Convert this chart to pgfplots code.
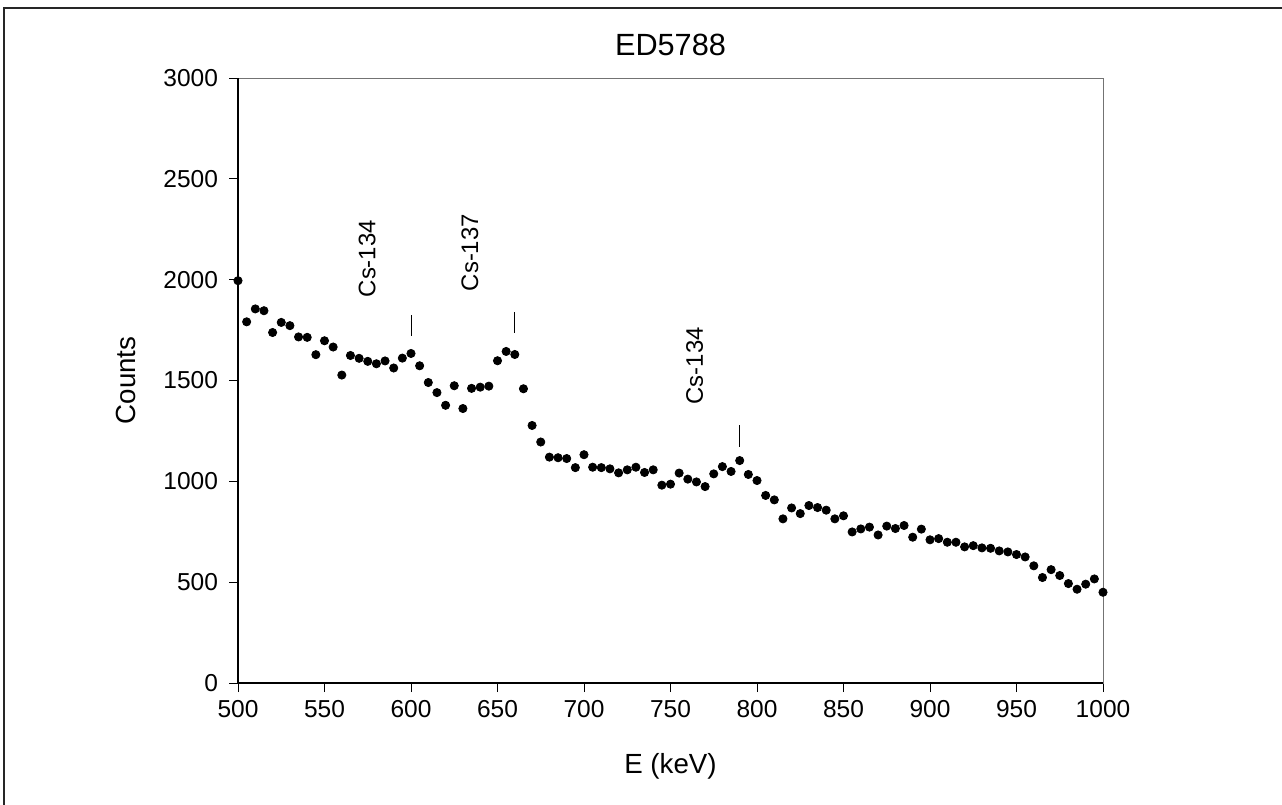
\documentclass[border=0pt]{standalone}
\usepackage{fontspec}
\setmainfont{Liberation Sans}
\usepackage{pgfplots}
\pgfplotsset{compat=1.18}
\begin{document}
\begin{tikzpicture}
\path[use as bounding box, fill=white] (0,0) rectangle (641bp,402.5bp);
\draw[black!85, line width=1.1bp] (2bp,0) -- (2bp,398.5bp) -- (641bp,398.5bp);
\begin{axis}[
  at={(119bp,61bp)}, anchor=south west,
  scale only axis, width=432.5bp, height=302.5bp,
  xmin=500, xmax=1000, ymin=0, ymax=3000,
  xtick={500,550,...,1000}, ytick={0,500,...,3000},
  xtick pos=left, ytick pos=left, tick align=outside,
  major tick length=4.5bp,
  tick style={black, line width=0.5bp},
  axis line style={draw=black!55, line width=0.5bp},
  scaled ticks=false,
  /pgf/number format/assume math mode=true,
  /pgf/number format/1000 sep={},
  ticklabel style={font=\fontsize{12.3}{14}\selectfont},
  xticklabel style={yshift=-0.8bp},
  yticklabel style={xshift=-2bp},
  title={ED5788},
  title style={at={(0.5,1)}, anchor=base, yshift=5.5bp, font=\fontsize{15.4}{17}\selectfont},
  xlabel={E (keV)},
  ylabel={Counts},
  label style={font=\fontsize{13.9}{16}\selectfont},
  xlabel style={at={(0.5,0)}, anchor=center, yshift=-41.5bp},
  every axis y label/.append style={at={(-56bp,151.25bp)}, anchor=center},
  clip=false,
]
\addplot[only marks, mark=*, mark size=2.05bp, black] coordinates {
(500,1995) (505,1791) (510,1855) (515,1846) (520,1738) (525,1788) (530,1772) (535,1716) (540,1714) (545,1628)
(550,1697) (555,1666) (560,1527) (565,1624) (570,1610) (575,1595) (580,1583) (585,1597) (590,1562) (595,1611)
(600,1634) (605,1573) (610,1490) (615,1440) (620,1377) (625,1474) (630,1361) (635,1461) (640,1467) (645,1472)
(650,1598) (655,1644) (660,1629) (665,1459) (670,1277) (675,1195) (680,1120) (685,1117) (690,1113) (695,1068)
(700,1132) (705,1070) (710,1068) (715,1062) (720,1042) (725,1057) (730,1070) (735,1044) (740,1057) (745,981)
(750,986) (755,1041) (760,1011) (765,997) (770,974) (775,1037) (780,1073) (785,1049) (790,1103) (795,1034)
(800,1004) (805,930) (810,908) (815,814) (820,868) (825,840) (830,880) (835,870) (840,857) (845,814)
(850,829) (855,749) (860,764) (865,773) (870,734) (875,778) (880,766) (885,781) (890,723) (895,763)
(900,710) (905,716) (910,698) (915,698) (920,675) (925,681) (930,670) (935,668) (940,655) (945,650)
(950,637) (955,625) (960,581) (965,523) (970,562) (975,533) (980,493) (985,465) (990,490) (995,516)
(1000,450)
};
\addplot[black, line width=0.55bp] coordinates {(600.3,1722) (600.3,1826)};
\addplot[black, line width=0.55bp] coordinates {(660,1737) (660,1841)};
\addplot[black, line width=0.55bp] coordinates {(790,1171) (790,1280)};
\node[rotate=90, font=\fontsize{12}{14}\selectfont] at (axis cs:574.6,2104) {Cs-134};
\node[rotate=90, font=\fontsize{12}{14}\selectfont] at (axis cs:634,2134) {Cs-137};
\node[rotate=90, font=\fontsize{12}{14}\selectfont] at (axis cs:764,1573) {Cs-134};
\draw[black, line width=0.7bp] (rel axis cs:0,1) -- (rel axis cs:0,0) -- (rel axis cs:1,0);
\end{axis}
\end{tikzpicture}
\end{document}
